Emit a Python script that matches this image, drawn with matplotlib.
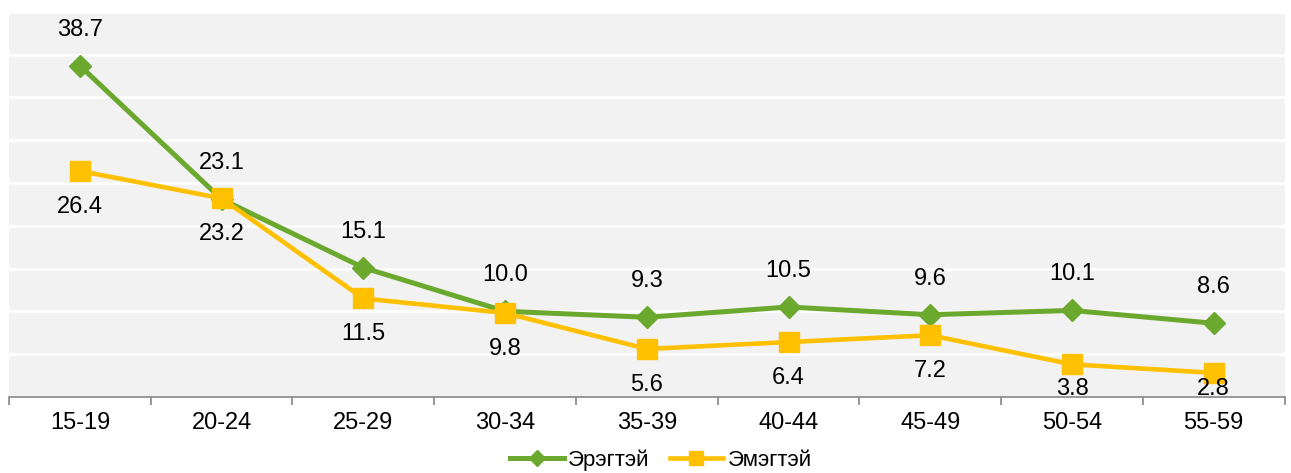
import matplotlib.pyplot as plt
import numpy as np

plt.rcParams['font.family'] = ['Liberation Sans', 'DejaVu Sans']

# age groups and values
ages = ['15-19', '20-24', '25-29', '30-34', '35-39', '40-44', '45-49', '50-54', '55-59']
male = [38.7, 23.1, 15.1, 10.0, 9.3, 10.5, 9.6, 10.1, 8.6]
female = [26.4, 23.2, 11.5, 9.8, 5.6, 6.4, 7.2, 3.8, 2.8]

green = '#6BA82E'
yellow = '#FFC000'

fig = plt.figure(figsize=(12.91, 4.73), dpi=100)
ax = fig.add_axes([0.007, 0.161, 0.988, 0.814])
ax.set_facecolor('#F2F2F2')

x = np.arange(len(ages))
ax.plot(x, male, color=green, lw=3.6, marker='D', markersize=11.5, label='Эрэгтэй', zorder=3)
ax.plot(x, female, color=yellow, lw=3.3, marker='s', markersize=15, label='Эмэгтэй', zorder=4)

# offset of labels in data units (~36 px)
off = 36 / (ax.get_position().height * 473) * 45
for i in range(len(ages)):
    ax.text(x[i], male[i] + off, f'{male[i]:.1f}', ha='center', va='center', fontsize=17)
    ax.text(x[i], max(female[i] - off, 0.9), f'{female[i]:.1f}', ha='center', va='center',
            fontsize=17, zorder=5)

ax.set_xlim(-0.5, len(ages) - 0.5)
ax.set_ylim(0, 45)
ax.set_yticks(np.arange(5, 46, 5))
ax.yaxis.grid(True, color='white', lw=2)
ax.set_axisbelow(True)
ax.tick_params(axis='y', left=False, labelleft=False)

ax.set_xticks(x)
ax.set_xticklabels(ages, fontsize=17)
ax.tick_params(axis='x', length=0, pad=11)
ax.set_xticks(np.arange(-0.5, len(ages), 1), minor=True)
ax.tick_params(axis='x', which='minor', length=6, color='#888888', width=1.2)

for s in ['top', 'right', 'left']:
    ax.spines[s].set_visible(False)
ax.spines['bottom'].set_color('#888888')
ax.spines['bottom'].set_linewidth(1.2)

fig.legend(loc='center', bbox_to_anchor=(0.512, 0.028), ncol=2, frameon=False,
           fontsize=16, handlelength=2.4, handletextpad=0.2, columnspacing=0.9,
           borderpad=0.1, markerscale=0.7)

fig.savefig('out.png', dpi=100)
